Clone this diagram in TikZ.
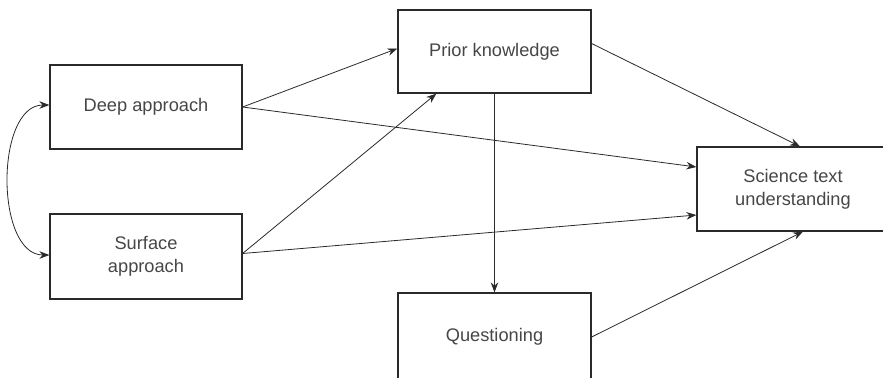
\documentclass[tikz,border=0pt]{standalone}
\usepackage{fontspec}
\setmainfont{Liberation Sans}
\usetikzlibrary{arrows.meta,calc}
\definecolor{txt}{HTML}{464646}
\definecolor{ln}{HTML}{2A2A2A}
\begin{document}
\begin{tikzpicture}[x=1bp,y=-1bp,
  box/.style={draw=ln,line width=1.2bp,rectangle,minimum width=192bp,minimum height=84bp,
    inner sep=0pt,align=center,text=txt,font=\fontsize{18.3}{23}\selectfont},
  conn/.style={draw=ln,line width=0.8bp,-{Stealth[length=10bp,width=7.5bp]}}]
\useasboundingbox (0,0) rectangle (883,377);
\clip (0,0) rectangle (883,377);
\node[box] (deep) at (146,107) {Deep approach};
\node[box,minimum height=85bp] (surf) at (146,256.5) {Surface\\approach};
\node[box,minimum width=193bp,minimum height=83bp] (prior) at (494.5,51.5) {Prior knowledge};
\node[box,minimum width=193bp,minimum height=88bp] (ques) at (494.5,337) {Questioning};
\node[box] (sci) at (793,189) {Science text\\understanding};
\draw[conn] (deep.east) -- ($(prior.west)+(0,-3)$);
\draw[conn] (deep.east) -- ($(sci.west)+(0,-22)$);
\draw[conn] ($(surf.east)+(0,-3)$) -- ($(prior.south west)+(39,0)$);
\draw[conn] ($(surf.east)+(0,-3)$) -- ($(sci.west)+(0,26)$);
\draw[conn] ($(prior.east)+(0,-8)$) -- ($(sci.north)+(7,0)$);
\draw[conn] (prior.south) -- (ques.north);
\draw[conn] (ques.east) -- ($(sci.south)+(10,0)$);
\draw[draw=ln,line width=0.8bp,{Stealth[length=10bp,width=7.5bp]}-{Stealth[length=10bp,width=7.5bp]}]
  ($(deep.west)+(0,-2)$) .. controls (-5,105) and (-5,255) .. ($(surf.west)+(0,-1.5)$);
\end{tikzpicture}
\end{document}
